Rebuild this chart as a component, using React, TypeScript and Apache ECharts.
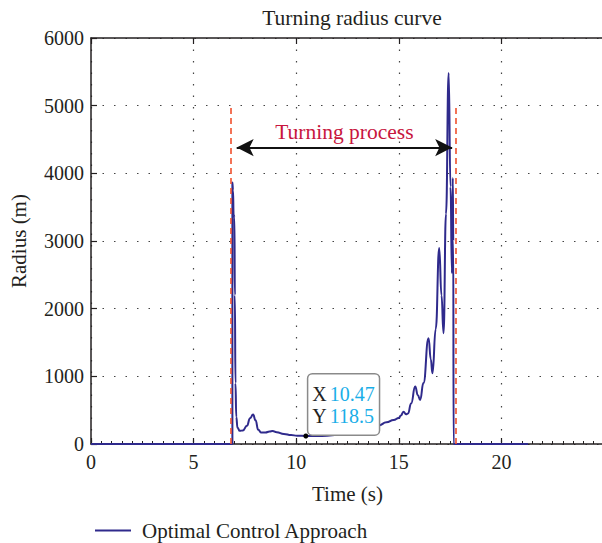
import React, { useEffect, useRef } from "react";
import * as echarts from "echarts";

// Turning radius of the vehicle over time (s → m)
const timeS = [
  0, 6.89, 6.89, 6.92, 6.95, 6.99, 7.01, 7.04, 7.08, 7.14, 7.25, 7.4, 7.6, 7.75, 7.9,
  8.02, 8.15, 8.3, 8.5, 8.7, 8.85, 9.05, 9.4, 9.75, 10.05, 10.47, 11.0, 11.5, 12.0,
  12.5, 13.0, 13.5, 14.02, 14.4, 14.75, 15.0, 15.1, 15.23, 15.35, 15.45, 15.6, 15.8,
  15.93, 16.04, 16.2, 16.45, 16.56, 16.64, 16.8, 16.97, 17.08, 17.18, 17.3, 17.43,
  17.52, 17.59, 17.63, 17.655, 17.67, 21.3,
];
const radiusM = [
  0, 0, 3865, 3750, 3388, 3350, 2200, 900, 400, 240, 195, 200, 270, 380, 435,
  350, 210, 170, 170, 185, 192, 175, 148, 132, 123, 118.5, 117, 122, 135,
  155, 185, 225, 275, 320, 355, 385, 420, 478, 440, 450, 600, 848,
  720, 651, 900, 1564, 1250, 1046, 1700, 2895, 2200, 1638, 3400, 5484,
  3800, 2525, 3930, 3000, 0, 0,
];

// Start / end of the turning manoeuvre and the height of their markers
const turnStart = 6.8;
const turnEnd = 17.79;
const markerTop = 5000;
// Double arrow spanning the turning process
const arrowFrom = 7.1;
const arrowTo = 17.6;
const arrowLevel = 4380;
// Data cursor
const cursorX = 10.47;
const cursorY = 118.5;

const xTicks = { min: 0, max: 25, interval: 5 };
const yTicks = { min: 0, max: 6000, interval: 1000 };

const FONT = "'Liberation Serif', 'DejaVu Serif', serif";
const INK = "#231f20";
const CURVE = "#2f2a8c";

export default function App() {
  const ref = useRef<HTMLDivElement>(null);

  useEffect(() => {
    if (!ref.current) return;
    const chart = echarts.init(ref.current, undefined, { renderer: "svg" });
    const points = timeS.map((t, i) => [t, radiusM[i]]);

    const gridDots = { show: true, lineStyle: { color: "#444", width: 1.2, type: [1.5, 10] as any } };

    chart.setOption({
      animation: false,
      backgroundColor: "#fff",
      textStyle: { fontFamily: FONT },
      title: {
        text: "Turning radius curve",
        left: 347,
        textAlign: "center",
        top: 2,
        textStyle: { fontFamily: FONT, fontSize: 21.5, fontWeight: "normal", color: INK },
      },
      grid: { left: 90, right: 16, top: 38, bottom: 99 },
      legend: {
        left: 90,
        top: 515,
        icon: "rect",
        itemWidth: 36,
        itemHeight: 2,
        textStyle: { fontFamily: FONT, fontSize: 21, color: INK, padding: [0, 0, 0, 6] },
        data: ["Optimal Control Approach"],
      },
      xAxis: [
        {
          type: "value",
          ...xTicks,
          name: "Time (s)",
          nameLocation: "middle",
          nameGap: 39,
          nameTextStyle: { fontFamily: FONT, fontSize: 21, color: INK },
          axisLine: { show: true, lineStyle: { color: INK, width: 1.5 } },
          axisTick: { show: true, inside: true, length: 6, lineStyle: { color: INK, width: 1.2 } },
          minorTick: { show: true, splitNumber: 10, length: 3, lineStyle: { color: INK } },
          axisLabel: { fontFamily: FONT, fontSize: 20, color: INK, margin: 8, showMaxLabel: false },
          splitLine: gridDots,
        },
        {
          type: "value",
          position: "top",
          ...xTicks,
          axisLine: { show: true, lineStyle: { color: INK, width: 1.5 } },
          axisTick: { show: true, inside: true, length: 6, lineStyle: { color: INK, width: 1.2 } },
          axisLabel: { show: false },
          splitLine: { show: false },
        },
      ],
      yAxis: {
        type: "value",
        ...yTicks,
        name: "Radius (m)",
        nameLocation: "middle",
        nameGap: 62,
        nameTextStyle: { fontFamily: FONT, fontSize: 21, color: INK },
        axisLine: { show: true, lineStyle: { color: INK, width: 1.5 } },
        axisTick: { show: true, inside: true, length: 6, lineStyle: { color: INK, width: 1.2 } },
        axisLabel: {
          fontFamily: FONT,
          fontSize: 20,
          color: INK,
          margin: 7,
          formatter: (v: number) => String(v),
        },
        splitLine: gridDots,
      },
      series: [
        {
          name: "Optimal Control Approach",
          type: "line",
          data: points,
          symbol: "none",
          smooth: 0.5,
          smoothMonotone: "x",
          lineStyle: { color: CURVE, width: 2 },
          itemStyle: { color: CURVE },
          z: 3,
          markLine: {
            silent: true,
            symbol: ["none", "none"],
            label: { show: false },
            data: [
              [
                { coord: [turnStart, 0], lineStyle: { color: "#f0502e", width: 1.6, type: [6, 4] } },
                { coord: [turnStart, markerTop] },
              ],
              [
                { coord: [turnEnd, 0], lineStyle: { color: "#f0502e", width: 1.6, type: [6, 4] } },
                { coord: [turnEnd, markerTop] },
              ],
              [
                {
                  coord: [arrowFrom, arrowLevel],
                  symbol: "arrow",
                  symbolSize: [13, 17],
                  lineStyle: { color: "#111", width: 2, type: "solid" },
                  label: {
                    show: true,
                    position: "middle",
                    formatter: "Turning process",
                    distance: 5,
                    fontFamily: FONT,
                    fontSize: 21.5,
                    color: "#c8163e",
                  },
                },
                { coord: [arrowTo, arrowLevel], symbol: "arrow", symbolSize: [13, 17] },
              ],
            ],
          },
          markPoint: {
            silent: true,
            symbol: "circle",
            symbolSize: 5,
            itemStyle: { color: "#000" },
            data: [
              {
                coord: [cursorX, cursorY],
                label: {
                  show: true,
                  position: [5, 1],
                  align: "left",
                  verticalAlign: "bottom",
                  formatter: () => `{k|X} {v|${cursorX}}\n{k|Y} {v|${cursorY}}`,
                  backgroundColor: "#fff",
                  borderColor: "#8a8a8a",
                  borderWidth: 1.5,
                  borderRadius: 4,
                  padding: [9, 4, 7, 4],
                  rich: {
                    k: { fontFamily: FONT, fontSize: 20, color: "#222", lineHeight: 22 },
                    v: { fontFamily: FONT, fontSize: 20, color: "#1aaee8", lineHeight: 22 },
                  },
                },
              },
            ],
          },
        },
      ],
    });

    return () => chart.dispose();
  }, []);

  return (
    <div
      style={{
        position: "absolute",
        left: 0,
        top: 0,
        width: 602,
        height: 543,
        overflow: "hidden",
        background: "#fff",
      }}
    >
      <div ref={ref} style={{ width: 620, height: 543 }} />
    </div>
  );
}
